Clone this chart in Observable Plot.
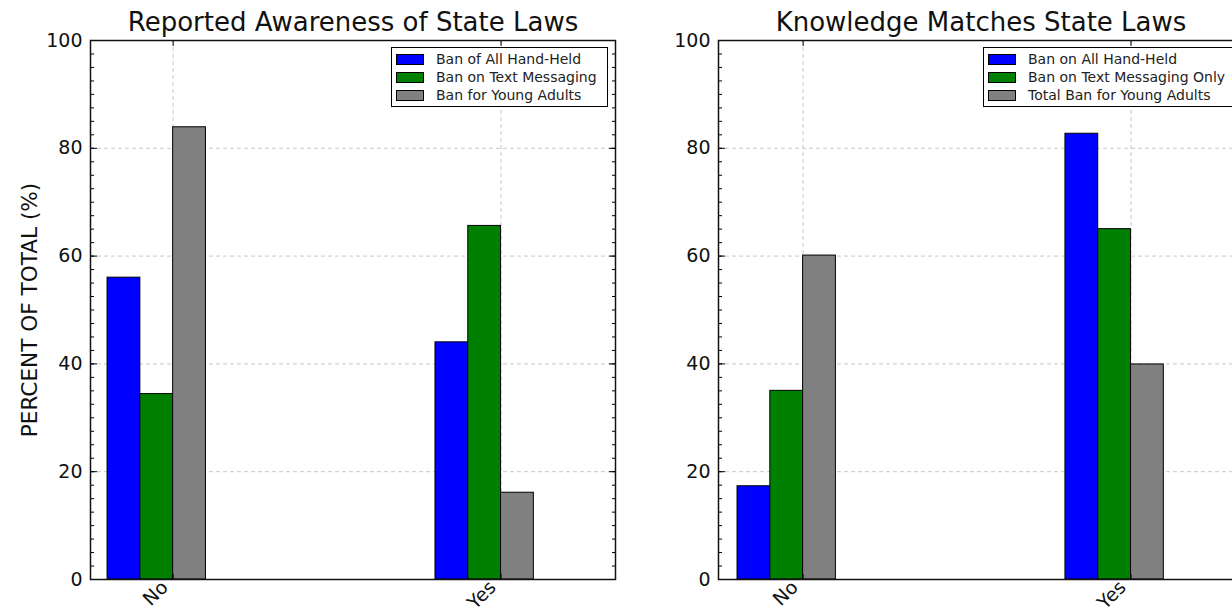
<!DOCTYPE html>
<html>
<head>
<meta charset="utf-8">
<script src="https://cdn.jsdelivr.net/npm/d3@7"></script>
<script src="https://cdn.jsdelivr.net/npm/@observablehq/plot@0.6"></script>
<style>
  html, body { margin: 0; padding: 0; background: #fff; }
  body { width: 1232px; height: 612px; overflow: hidden; position: relative; font-family: "DejaVu Sans", sans-serif; }
  .panel { position: absolute; top: 0; width: 640px; height: 612px; }
  .panel svg { max-width: none !important; }
  .legend { position: absolute; background: #fff; border: 1px solid #000; box-sizing: border-box; padding: 2px 0 0 4px; }
  .legend .row { display: flex; align-items: center; height: 18px; font-size: 14px; color: #222; white-space: nowrap; }
  .legend .sw { width: 26px; height: 9px; border: 1px solid #000; margin-right: 12px; flex: none; }
</style>
</head>
<body>
<script>
// Survey answers: share of respondents (%) per answer, for each type of law
const categories = ["No", "Yes"];

const awarenessTitle = "Reported Awareness of State Laws";
const awarenessSeries = ["Ban of All Hand-Held", "Ban on Text Messaging", "Ban for Young Adults"];
const awarenessHandHeld = [56.0, 44.0];
const awarenessTexting = [34.4, 65.6];
const awarenessYoung = [83.9, 16.1];

const knowledgeTitle = "Knowledge Matches State Laws";
const knowledgeSeries = ["Ban on All Hand-Held", "Ban on Text Messaging Only", "Total Ban for Young Adults"];
const knowledgeHandHeld = [17.3, 82.7];
const knowledgeTexting = [35.0, 65.0];
const knowledgeYoung = [60.1, 39.9];

const seriesColors = ["#0000ff", "#008000", "#808080"];
const yTicks = [0, 20, 40, 60, 80, 100];
const yMinorTicks = d3.range(0, 100.01, 2.5);
const yLabel = "PERCENT OF TOTAL (%)";

const BAR_W = 0.1;             // bar width in category units
const TICK_OFFSET = 2 * BAR_W; // category tick sits at the left edge of the third bar

function panel(title, series, values, showYLabel, xDomain) {
  const rows = [];
  categories.forEach((cat, i) => {
    series.forEach((s, j) => {
      rows.push({cat, series: s, x1: i + j * BAR_W, x2: i + (j + 1) * BAR_W, value: values[j][i]});
    });
  });
  const catTicks = categories.map((c, i) => i + TICK_OFFSET);
  const tickStyle = {stroke: "#000", strokeWidth: 1, fill: "none", label: null};

  return Plot.plot({
    width: 640,
    height: 612,
    marginLeft: 90,
    marginRight: 25,
    marginTop: 40,
    marginBottom: 33,
    style: {fontFamily: "'DejaVu Sans', sans-serif", color: "#000", background: "transparent", maxWidth: "none"},
    x: {type: "linear", domain: xDomain, axis: null},
    y: {domain: [0, 100], axis: null},
    color: {domain: series, range: seriesColors},
    marks: [
      Plot.gridY(yTicks, {stroke: "#c8c8c8", strokeOpacity: 1, strokeWidth: 1, strokeDasharray: "4,3"}),
      Plot.gridX(catTicks, {stroke: "#c8c8c8", strokeOpacity: 1, strokeWidth: 1, strokeDasharray: "4,3"}),
      Plot.rectY(rows, {x1: "x1", x2: "x2", y1: 0, y2: "value", fill: "series", stroke: "#000", strokeWidth: 1}),
      // inward ticks on every spine
      Plot.axisY(yMinorTicks, {anchor: "right", frameAnchor: "left", tickSize: 3, ...tickStyle}),
      Plot.axisY(yTicks, {anchor: "right", frameAnchor: "left", tickSize: 6, ...tickStyle}),
      Plot.axisY(yMinorTicks, {anchor: "left", frameAnchor: "right", tickSize: 3, ...tickStyle}),
      Plot.axisY(yTicks, {anchor: "left", frameAnchor: "right", tickSize: 6, ...tickStyle}),
      Plot.axisX(catTicks, {anchor: "top", frameAnchor: "bottom", tickSize: 6, ...tickStyle}),
      Plot.axisX(catTicks, {anchor: "bottom", frameAnchor: "top", tickSize: 6, ...tickStyle}),
      Plot.frame({stroke: "#111", strokeWidth: 1.5}),
      Plot.axisY(yTicks, {anchor: "left", tickSize: 0, tickPadding: 8, fontSize: 19, label: null, fill: "#111"}),
      Plot.text(categories, {
        x: (d, i) => i + TICK_OFFSET, frameAnchor: "bottom", lineAnchor: "bottom", text: d => d,
        rotate: -45, textAnchor: "end", dx: -4, dy: 9, fontSize: 19, fill: "#111"
      }),
      Plot.text([title], {frameAnchor: "top", lineAnchor: "middle", dy: -18, fontSize: 26, fill: "#111"}),
      showYLabel ? Plot.text([yLabel], {frameAnchor: "left", lineAnchor: "middle", textAnchor: "middle", dx: -60, rotate: -90, fontSize: 21.6, fill: "#111"}) : null
    ]
  });
}

function legend(series, left, top, width) {
  const box = document.createElement("div");
  box.className = "legend";
  box.style.left = left + "px";
  box.style.top = top + "px";
  box.style.width = width + "px";
  box.style.height = "60px";
  series.forEach((s, i) => {
    const row = document.createElement("div");
    row.className = "row";
    const sw = document.createElement("span");
    sw.className = "sw";
    sw.style.background = seriesColors[i];
    const label = document.createElement("span");
    label.textContent = s;
    row.append(sw, label);
    box.append(row);
  });
  return box;
}

const leftDiv = document.createElement("div");
leftDiv.className = "panel";
leftDiv.style.left = "0px";
leftDiv.append(panel(awarenessTitle, awarenessSeries, [awarenessHandHeld, awarenessTexting, awarenessYoung], true, [-0.052, 1.549]));
document.body.append(leftDiv);

const rightDiv = document.createElement("div");
rightDiv.className = "panel";
rightDiv.style.left = "628px";
rightDiv.append(panel(knowledgeTitle, knowledgeSeries, [knowledgeHandHeld, knowledgeTexting, knowledgeYoung], false, [-0.058, 1.543]));
document.body.append(rightDiv);

document.body.append(legend(awarenessSeries, 391, 47, 217));
document.body.append(legend(knowledgeSeries, 983, 47, 260));
</script>
</body>
</html>
